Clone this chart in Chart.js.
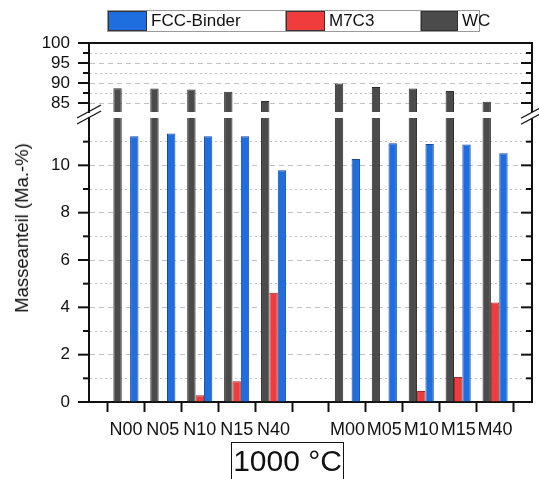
<!DOCTYPE html>
<html>
<head>
<meta charset="utf-8">
<script src="https://cdn.jsdelivr.net/npm/chart.js@4"></script>
<style>
  body { margin: 0; background: #fff; }
  #wrap { position: relative; width: 539px; height: 479px; overflow: hidden; font-family: "Liberation Sans", Arial, sans-serif; color: #111; }
  canvas { position: absolute; left: 0; top: 0; }
  #legend { position: absolute; left: 107px; top: 10px; height: 20px; display: flex; border: 1px solid #9a9a9a; font-size: 17px; line-height: 20px; }
  #legend .sw { height: 18px; border: 1px solid #333; }
  #legend .tx { padding-left: 4px; box-sizing: border-box; border-right: 1px solid #9a9a9a; }
  #ytitle { position: absolute; left: 22px; top: 228px; transform: translate(-50%, -50%) rotate(-90deg); white-space: nowrap; font-size: 18.5px; }
  #temp { position: absolute; left: 231px; top: 442px; width: 113px; height: 50px; border: 1px solid #111; font-size: 30px; line-height: 36px; text-align: center; box-sizing: border-box; }
</style>
</head>
<body>
<div id="wrap">
  <canvas id="lower" width="539" height="479"></canvas>
  <canvas id="upper" width="539" height="479"></canvas>
  <div id="legend">
    <div class="sw" style="width:37px;background:#1f6ee0"></div><div class="tx" style="width:139px">FCC-Binder</div>
    <div class="sw" style="width:37px;background:#f03c3c"></div><div class="tx" style="width:96px">M7C3</div>
    <div class="sw" style="width:35px;background:#4b4b4b"></div><div class="tx" style="width:21px;border-right:none">WC</div>
  </div>
  <div id="ytitle">Masseanteil (Ma.-%)</div>
  <div id="temp">1000 °C</div>
</div>
<script>
// samples (N series, then M series)
const samples = ['N00', 'N05', 'N10', 'N15', 'N40', 'M00', 'M05', 'M10', 'M15', 'M40'];
const wcValues   = [88.7, 88.6, 88.4, 87.8, 85.5, 89.9, 89.0, 88.6, 88.0, 85.3];
const m7c3Values = [0, 0, 0.28, 0.88, 4.62, 0, 0, 0.47, 1.06, 4.2];
const fccValues  = [11.23, 11.34, 11.23, 11.23, 9.79, 10.27, 10.93, 10.9, 10.88, 10.51];
const upperTicks = [85, 87.5, 90, 92.5, 95, 97.5, 100];
const lowerTicks = [0, 1, 2, 3, 4, 5, 6, 7, 8, 9, 10, 11, 12];

// empty slots at both ends and between the two series
function pad(arr, fill) {
    return [fill].concat(arr.slice(0, 5), [fill], arr.slice(5), [fill]);
}
const labels = pad(samples, '');

Chart.defaults.font.family = '"Liberation Sans", Arial, sans-serif';
Chart.defaults.font.size = 17;
Chart.defaults.color = '#111';

const AXIS = '#111';
const GRID = '#c2c2c2';

function makeDatasets(withLow) {
    return [
        { label: 'WC', data: pad(wcValues, null), backgroundColor: '#4b4b4b', borderColor: '#2a2a2a', borderWidth: 1 },
        { label: 'M7C3', data: withLow ? pad(m7c3Values, null) : labels.map(() => null), backgroundColor: '#f03c3c', borderColor: '#a82828', borderWidth: 1 },
        { label: 'FCC-Binder', data: withLow ? pad(fccValues, null) : labels.map(() => null), backgroundColor: '#1f6ee0', borderColor: '#17479a', borderWidth: 1 }
    ];
}

// right axis, top frame, tick marks, axis break
const frame = {
    id: 'frame',
    afterDraw(chart, args, opts) {
        const ctx = chart.ctx, a = chart.chartArea, y = chart.scales.y;
        function line(x1, y1, x2, y2) {
            ctx.beginPath(); ctx.moveTo(x1, y1); ctx.lineTo(x2, y2); ctx.stroke();
        }
        ctx.save();
        ctx.strokeStyle = AXIS;
        ctx.lineWidth = 2;
        line(a.right, a.top, a.right, a.bottom);
        if (opts.top) line(a.left - 1, a.top, a.right + 1, a.top);
        y.ticks.forEach(function (t) {
            if (!opts.showTick(t.value)) return;
            const py = y.getPixelForValue(t.value);
            const len = opts.major(t.value) ? 11 : 6;
            line(a.left - len, py, a.left, py);
            line(a.right - len, py, a.right, py);
        });
        if (opts.breaks) {
            ctx.lineWidth = 1.3;
            line(77, 118, 101, 105);
            line(77, 124, 101, 111);
            line(521, 118.2, 539, 108.5);
            line(521, 124.2, 539, 114.5);
        }
        ctx.restore();
    }
};

function yScale(min, max, ticks, isMajor, noGrid, noLabel) {
    return {
        min: min, max: max,
        afterBuildTicks: function (s) { s.ticks = ticks.map(v => ({ value: v })); },
        afterFit: function (s) { s.width = 89; },
        ticks: {
            padding: 19,
            autoSkip: false,
            callback: function (v) { return isMajor(v) && !noLabel(v) ? v : ''; }
        },
        grid: {
            drawTicks: false,
            lineWidth: 1,
            color: ctx => noGrid(ctx.tick.value) ? 'rgba(0,0,0,0)' : GRID
        },
        border: {
            display: true, color: AXIS, width: 2,
            dash: ctx => isMajor(ctx.tick.value) ? [5, 4] : [2, 3]
        }
    };
}

const common = {
    responsive: false,
    animation: false,
    devicePixelRatio: 1,
    events: [],
    datasets: { bar: { categoryPercentage: 0.68, barPercentage: 1, clip: 0 } },
    plugins: { legend: { display: false }, tooltip: { enabled: false } }
};

// lower part 0..12
new Chart(document.getElementById('lower'), {
    type: 'bar',
    data: { labels: labels, datasets: makeDatasets(true) },
    plugins: [frame],
    options: Object.assign({}, common, {
        layout: { padding: { left: 0, top: 118, right: 7, bottom: 37 } },
        scales: {
            x: {
                offset: false,
                afterFit: function (s) { s.height = 40; },
                ticks: { padding: 7, autoSkip: false, maxRotation: 0, font: { size: 18 } },
                grid: { drawOnChartArea: false, drawTicks: true, tickLength: 10, tickWidth: 2, tickColor: AXIS },
                border: { display: true, color: AXIS, width: 2 }
            },
            y: yScale(0, 12, lowerTicks, v => v % 2 === 0, v => v === 0 || v === 12, v => v === 12)
        },
        plugins: Object.assign({}, common.plugins, {
            frame: { top: false, breaks: false, showTick: v => v !== 12, major: v => v % 2 === 0 }
        })
    })
});

// upper part 82.75..100 (only WC reaches it)
new Chart(document.getElementById('upper'), {
    type: 'bar',
    data: { labels: labels, datasets: makeDatasets(false) },
    plugins: [frame],
    options: Object.assign({}, common, {
        layout: { padding: { left: 0, top: 43, right: 7, bottom: 367 } },
        scales: {
            x: { display: false, offset: false },
            y: yScale(82.75, 100, upperTicks, v => v % 5 === 0, v => v === 100, v => false)
        },
        plugins: Object.assign({}, common.plugins, {
            frame: { top: true, breaks: true, showTick: v => true, major: v => v % 5 === 0 }
        })
    })
});
</script>
</body>
</html>
